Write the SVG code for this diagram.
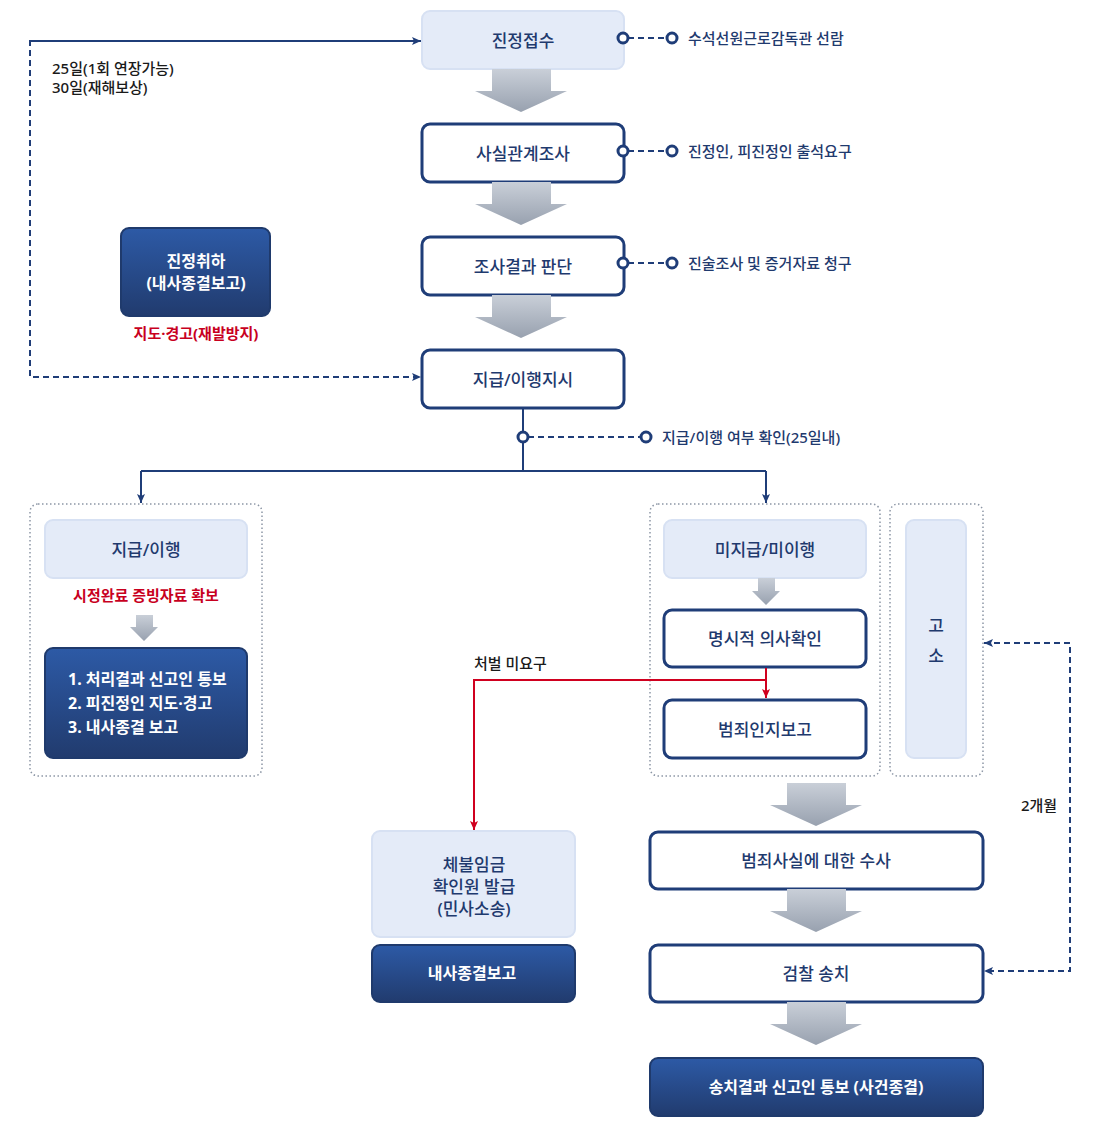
<svg xmlns="http://www.w3.org/2000/svg" width="1100" height="1130" viewBox="0 0 1100 1130">
<defs>
<linearGradient id="gArrow" x1="0" y1="0" x2="0" y2="1"><stop offset="0" stop-color="#c9cfd8"/><stop offset="1" stop-color="#98a1af"/></linearGradient>
<linearGradient id="gDark" x1="0" y1="0" x2="0" y2="1"><stop offset="0" stop-color="#2d5aa6"/><stop offset="1" stop-color="#213b6e"/></linearGradient>
<marker id="mNavy" viewBox="0 0 10 10" refX="9" refY="5" markerWidth="10" markerHeight="10" markerUnits="userSpaceOnUse" orient="auto"><path d="M0,1 L9,5 L0,9 L2,5 Z" fill="#1f3d78"/></marker>
<marker id="mRed" viewBox="0 0 10 10" refX="9" refY="5" markerWidth="10" markerHeight="10" markerUnits="userSpaceOnUse" orient="auto"><path d="M0,1 L9,5 L0,9 L2,5 Z" fill="#d0001f"/></marker>
<style>
text{font-family:"Noto Sans","Noto Sans CJK KR",sans-serif;}
.lt{fill:#e4ebf8;stroke:#d7e1f3;stroke-width:2;}
.wh{fill:#fff;stroke:#1f3d78;stroke-width:3;}
.dk{fill:url(#gDark);stroke:#1f3a6c;stroke-width:2;}
.ct{fill:none;stroke:#8c96a5;stroke-width:1.5;stroke-dasharray:1.5 2.5;}
.lbl{font-size:17px;font-weight:500;fill:#1f3a6e;text-anchor:middle;dominant-baseline:central;}
.wl{font-size:16px;font-weight:700;fill:#fff;text-anchor:middle;dominant-baseline:central;}
.wls{font-size:16px;font-weight:700;fill:#fff;text-anchor:start;dominant-baseline:central;}
.side{font-size:15px;font-weight:500;fill:#1f3a6e;dominant-baseline:central;}
.note{font-size:15px;font-weight:500;fill:#1a1a1a;dominant-baseline:central;}
.red{font-size:15px;font-weight:700;fill:#c8001e;text-anchor:middle;dominant-baseline:central;}
.dash{fill:none;stroke:#1f3d78;stroke-width:2;stroke-dasharray:6 4;}
.solid{fill:none;stroke:#1f3d78;stroke-width:2;}
.dot{fill:#fff;stroke:#1f3d78;stroke-width:3;}
.ga{fill:url(#gArrow);}
</style>
</defs>

<g id="node-jinjeong-jeopsu"><rect class="lt" x="422" y="11" width="202" height="58" rx="8"/><text class="lbl" x="523" y="40">진정접수</text></g>
<g id="node-sasil"><rect class="wh" x="422" y="124" width="202" height="58" rx="8"/><text class="lbl" x="523" y="153">사실관계조사</text></g>
<g id="node-josa"><rect class="wh" x="422" y="237" width="202" height="58" rx="8"/><text class="lbl" x="523" y="266">조사결과 판단</text></g>
<g id="node-jigeup-jisi"><rect class="wh" x="422" y="350" width="202" height="58" rx="8"/><text class="lbl" x="523" y="379">지급/이행지시</text></g>

<g id="node-chwiha"><rect class="dk" x="121" y="228" width="149" height="88" rx="8"/><text class="wl" x="196" y="261">진정취하</text><text class="wl" x="196" y="283">(내사종결보고)</text>
<text class="red" x="196" y="333">지도·경고(재발방지)</text></g>

<g id="node-left-group"><rect class="ct" x="30" y="504" width="232" height="272" rx="8"/></g>
<g id="node-jigeup"><rect class="lt" x="45" y="520" width="202" height="58" rx="8"/><text class="lbl" x="146" y="549">지급/이행</text>
<text class="red" x="146" y="595">시정완료 증빙자료 확보</text></g>
<g id="node-left-result"><rect class="dk" x="45" y="648" width="202" height="110" rx="8"/>
<text class="wls" x="68" y="679">1. 처리결과 신고인 통보</text>
<text class="wls" x="68" y="703">2. 피진정인 지도·경고</text>
<text class="wls" x="68" y="727">3. 내사종결 보고</text></g>

<g id="node-right-group"><rect class="ct" x="650" y="504" width="230" height="272" rx="8"/></g>
<g id="node-mijigeup"><rect class="lt" x="664" y="520" width="202" height="58" rx="8"/><text class="lbl" x="765" y="549">미지급/미이행</text></g>
<g id="node-myeongsi"><rect class="wh" x="664" y="610" width="202" height="57" rx="8"/><text class="lbl" x="765" y="638">명시적 의사확인</text></g>
<g id="node-beomjoe-report"><rect class="wh" x="664" y="700" width="202" height="58" rx="8"/><text class="lbl" x="765" y="729">범죄인지보고</text></g>

<g id="node-goso"><rect class="ct" x="890" y="504" width="93" height="272" rx="8"/><rect class="lt" x="906" y="520" width="60" height="238" rx="8"/><text class="lbl" x="936" y="625">고</text><text class="lbl" x="936" y="655">소</text></g>

<g id="node-suspect"><rect class="wh" x="650" y="832" width="333" height="57" rx="8"/><text class="lbl" x="816" y="860">범죄사실에 대한 수사</text></g>
<g id="node-geomchal"><rect class="wh" x="650" y="945" width="333" height="57" rx="8"/><text class="lbl" x="816" y="973">검찰 송치</text></g>
<g id="node-final"><rect class="dk" x="650" y="1058" width="333" height="58" rx="8"/><text class="wl" x="816" y="1087">송치결과 신고인 통보 (사건종결)</text></g>

<g id="node-chebul"><rect class="lt" x="372" y="831" width="203" height="106" rx="8"/><text class="lbl" x="474" y="864">체불임금</text><text class="lbl" x="474" y="886">확인원 발급</text><text class="lbl" x="474" y="908">(민사소송)</text></g>
<g id="node-naesa"><rect class="dk" x="372" y="945" width="203" height="57" rx="8"/><text class="wl" x="472" y="973">내사종결보고</text></g>

<g id="connectors">
  <path class="ga" d="M492,69 H551 V91 H567 L521,112 L475,91 H492 Z"/>
  <path class="ga" d="M492,182 H551 V204 H567 L521,225 L475,204 H492 Z"/>
  <path class="ga" d="M492,295 H551 V317 H567 L521,338 L475,317 H492 Z"/>
  <path class="ga" d="M787,783 H846 V805 H862 L816,826 L770,805 H787 Z"/>
  <path class="ga" d="M787,889 H846 V911 H862 L816,932 L770,911 H787 Z"/>
  <path class="ga" d="M787,1002 H846 V1024 H862 L816,1045 L770,1024 H787 Z"/>
  <path class="ga" d="M136,615 H153 V627 H158 L144,641 L130,627 H136 Z"/>
  <path class="ga" d="M758,578 H775 V591 H780 L766,605 L752,591 H758 Z"/>
  <path class="dash" d="M628,38 H667"/>
  <circle class="dot" cx="623" cy="38" r="5"/><circle class="dot" cx="672" cy="38" r="5"/>
  <path class="dash" d="M628,151 H667"/>
  <circle class="dot" cx="623" cy="151" r="5"/><circle class="dot" cx="672" cy="151" r="5"/>
  <path class="dash" d="M628,263 H667"/>
  <circle class="dot" cx="623" cy="263" r="5"/><circle class="dot" cx="672" cy="263" r="5"/>
  <path class="dash" d="M421,41 H30 V377 H421" marker-end="url(#mNavy)"/>
  <path class="dash" d="M30,41 H421" marker-end="url(#mNavy)"/>
  <path class="solid" d="M523,408 V471"/>
  <path class="dash" d="M528,437 H641"/>
  <circle class="dot" cx="523" cy="437" r="5"/><circle class="dot" cx="646" cy="437" r="5"/>
  <path class="solid" d="M141,471 H766"/>
  <path class="solid" d="M141,471 V503" marker-end="url(#mNavy)"/>
  <path class="solid" d="M766,471 V503" marker-end="url(#mNavy)"/>
  <path fill="none" stroke="#d0001f" stroke-width="2" d="M766,668 V698" marker-end="url(#mRed)"/>
  <path fill="none" stroke="#d0001f" stroke-width="2" d="M766,680 H474 V830" marker-end="url(#mRed)"/>
  <path class="dash" d="M984,643 H1070 V971 H984" marker-end="url(#mNavy)"/>
  <path class="dash" d="M1000,643 H984" marker-end="url(#mNavy)"/>
</g>

<g id="labels-free">
  <text class="note" x="52" y="68">25일(1회 연장가능)</text>
  <text class="note" x="52" y="87">30일(재해보상)</text>
  <text class="side" x="688" y="38">수석선원근로감독관 선람</text>
  <text class="side" x="688" y="151">진정인, 피진정인 출석요구</text>
  <text class="side" x="688" y="263">진술조사 및 증거자료 청구</text>
  <text class="side" x="662" y="437">지급/이행 여부 확인(25일내)</text>
  <text class="note" x="474" y="663">처벌 미요구</text>
  <text class="note" x="1039" y="805" text-anchor="middle">2개월</text>
</g>
</svg>
